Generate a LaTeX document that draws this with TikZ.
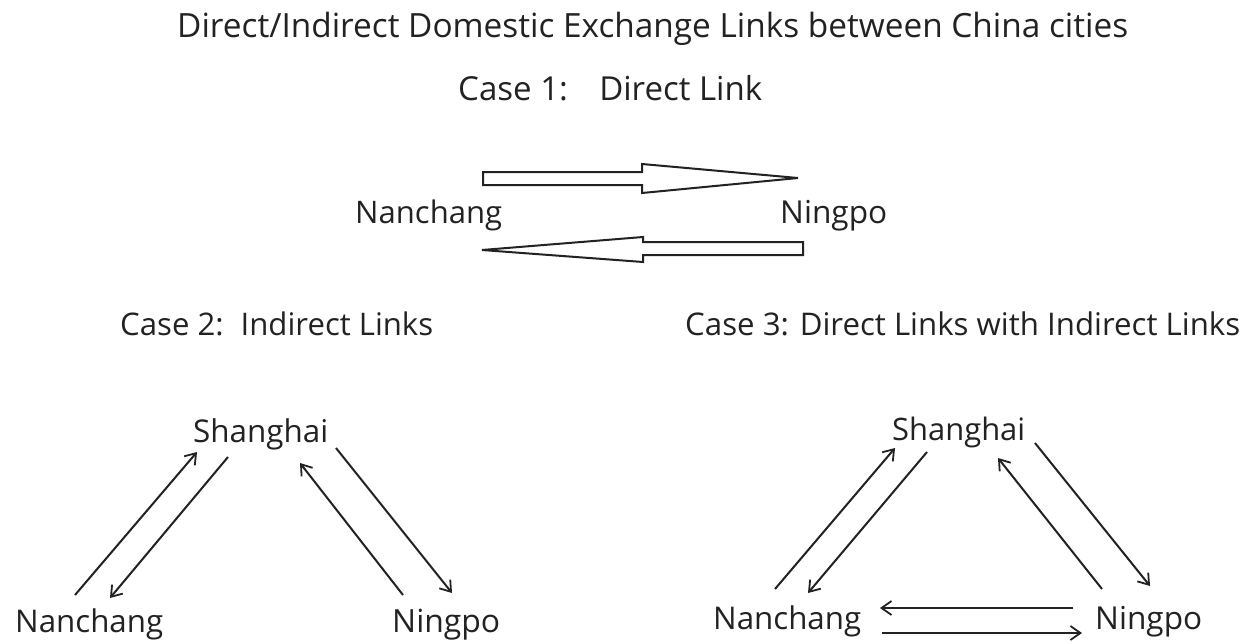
\documentclass[tikz,border=0pt]{standalone}
\usepackage{fontspec}
\setmainfont{Open Sans}
\usetikzlibrary{arrows.meta}
% set a label to a given width
\newcommand{\wlabel}[2]{\resizebox{#1pt}{!}{#2}}
\definecolor{ink}{HTML}{222222}
\tikzset{
  lbl/.style={anchor=base west, inner sep=0pt, text=ink, font=\fontsize{30}{36}\selectfont},
  link/.style={line width=2pt, draw=ink, -{Straight Barb[length=10pt,width=14pt,line width=1.8pt]}},
  block/.style={line width=2pt, draw=ink, fill=white, line join=miter}
}
\begin{document}
\begin{tikzpicture}[x=1pt,y=-1pt]
\useasboundingbox[fill=white] (0,0) rectangle (1255,643);

% headings
\node[lbl] (title) at (177,37) {\wlabel{951}{Direct/Indirect Domestic Exchange Links between China cities}};
\node[lbl] (case1) at (458,100) {\wlabel{304}{Case 1:\hspace{0.6em} Direct Link}};
\node[lbl] (case2) at (120,335) {\wlabel{313}{Case 2:\hspace{0.2em} Indirect Links}};
\node[lbl] (case3) at (685,335) {\wlabel{555}{Case 3: Direct Links with Indirect Links}};

% case 1: two hollow block arrows
\node[lbl] (nan1) at (355,223) {\wlabel{147}{Nanchang}};
\node[lbl] (nin1) at (780,223) {\wlabel{107}{Ningpo}};
\draw[block] (483,172) -- (642,172) -- (642,164) -- (798,178) -- (642,193) -- (642,185) -- (483,185) -- cycle;
\draw[block] (803,242) -- (643,242) -- (643,237) -- (482,250) -- (643,262) -- (643,255) -- (803,255) -- cycle;

% case 2: indirect links through Shanghai
\node[lbl] (sha2) at (193,442) {\wlabel{135}{Shanghai}};
\node[lbl] (nan2) at (15,632) {\wlabel{148}{Nanchang}};
\node[lbl] (nin2) at (392,632) {\wlabel{108}{Ningpo}};
\coordinate (a1s) at (75,595);   \coordinate (a1e) at (197,452);
\coordinate (a2s) at (228,457);  \coordinate (a2e) at (110,598);
\coordinate (a3s) at (403,595);  \coordinate (a3e) at (300,463);
\coordinate (a4s) at (336,448);  \coordinate (a4e) at (452,593);
\draw[link] (a1s) -- (a1e);
\draw[link] (a2s) -- (a2e);
\draw[link] (a3s) -- (a3e);
\draw[link] (a4s) -- (a4e);

% case 3: direct and indirect links
\node[lbl] (sha3) at (892,440) {\wlabel{133}{Shanghai}};
\node[lbl] (nan3) at (713,629) {\wlabel{148}{Nanchang}};
\node[lbl] (nin3) at (1095,629) {\wlabel{107}{Ningpo}};
\coordinate (b1s) at (775,589);   \coordinate (b1e) at (895,448);
\coordinate (b2s) at (927,452);   \coordinate (b2e) at (808,593);
\coordinate (b3s) at (1102,589);  \coordinate (b3e) at (998,458);
\coordinate (b4s) at (1035,443);  \coordinate (b4e) at (1150,586);
\coordinate (b5s) at (1073,608);  \coordinate (b5e) at (880,608);
\coordinate (b6s) at (882,633);   \coordinate (b6e) at (1082,633);
\draw[link] (b1s) -- (b1e);
\draw[link] (b2s) -- (b2e);
\draw[link] (b3s) -- (b3e);
\draw[link] (b4s) -- (b4e);
\draw[link] (b5s) -- (b5e);
\draw[link] (b6s) -- (b6e);
\end{tikzpicture}
\end{document}
